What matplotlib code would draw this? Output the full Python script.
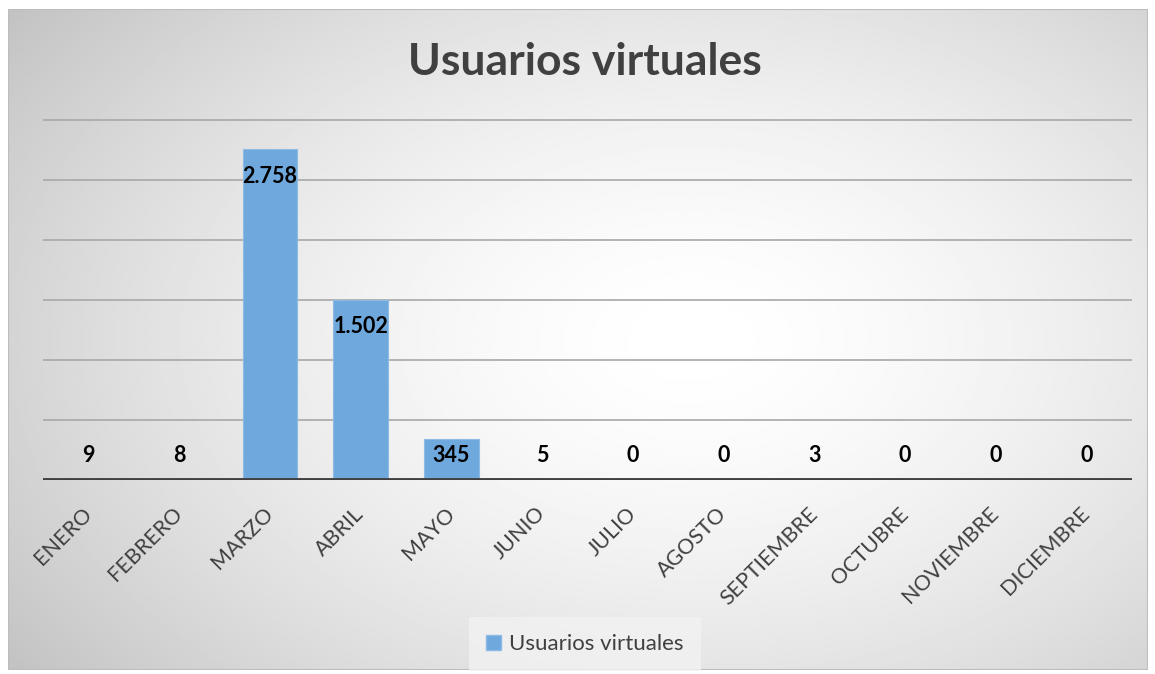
import numpy as np
import matplotlib.pyplot as plt
from matplotlib.patches import Rectangle, Patch

# data
months = ['ENERO', 'FEBRERO', 'MARZO', 'ABRIL', 'MAYO', 'JUNIO', 'JULIO',
          'AGOSTO', 'SEPTIEMBRE', 'OCTUBRE', 'NOVIEMBRE', 'DICIEMBRE']
usuarios = [9, 8, 2758, 1502, 345, 5, 0, 0, 3, 0, 0, 0]
y_ticks = [500, 1000, 1500, 2000, 2500, 3000]

plt.rcParams['font.family'] = ['Lato', 'DejaVu Sans']

W, H = 1155, 674
fig = plt.figure(figsize=(W / 100, H / 100), dpi=100)
fig.patch.set_facecolor('white')

# chart area background with radial gradient
bg = fig.add_axes([8 / W, 1 - 670 / H, 1140 / W, 661 / H])
gx, gy = np.meshgrid(np.linspace(0, 1, 400), np.linspace(0, 1, 300))
r = np.sqrt(((gx - 0.6) / 0.75) ** 2 + ((gy - 0.5) / 0.85) ** 2)
shade = 1 - 0.24 * np.clip(r, 0, 1.2) ** 1.6
bg.imshow(shade, cmap='gray', vmin=0, vmax=1, extent=(0, 1, 0, 1),
          aspect='auto', origin='upper', interpolation='bilinear')
bg.add_patch(Rectangle((0, 0), 1, 1, transform=bg.transAxes, fill=False,
                       edgecolor='#BDBDBD', linewidth=1.5))
bg.set_xlim(0, 1)
bg.set_ylim(0, 1)
bg.axis('off')

# main plot
ax = fig.add_axes([43 / W, 1 - 480 / H, 1089 / W, 366 / H])
ax.patch.set_alpha(0)
x = np.arange(len(months))
ax.bar(x, usuarios, width=0.6, color='#6FA8DC', edgecolor='#8DBBE6',
       linewidth=0.8, zorder=3)
ax.set_xlim(-0.5, len(months) - 0.5)
ax.set_ylim(0, 3050)

for t in y_ticks:
    ax.axhline(t, color='#A8A8A8', linewidth=1.2, zorder=1)
ax.axhline(0, color='#404040', linewidth=3.5, zorder=4)

for s in ax.spines.values():
    s.set_visible(False)
ax.set_yticks([])
ax.set_xticks(x)
ax.set_xticklabels(months, rotation=45, ha='right', va='center',
                   rotation_mode='anchor', fontsize=15.5, color='#404040')
ax.tick_params(axis='x', length=0, pad=22)

# data labels: inside the bar top, or just above the axis for short bars
for xi, v in zip(x, usuarios):
    ax.text(xi, max(v - 225, 208), f'{v:,}'.replace(',', '.'),
            ha='center', va='center', fontsize=15.5, fontweight='bold',
            color='black', zorder=5)

fig.text(585 / W, 1 - 62 / H, 'Usuarios virtuales', ha='center', va='center',
         fontsize=32, fontweight='bold', color='#404040')

leg = fig.legend(handles=[Patch(facecolor='#6FA8DC', edgecolor='#8DBBE6',
                                label='Usuarios virtuales')],
                 loc='center', bbox_to_anchor=(585 / W, 1 - 644 / H),
                 frameon=True, fontsize=16, handlelength=0.65,
                 handleheight=0.65, handletextpad=0.4, borderpad=0.75,
                 borderaxespad=0, fancybox=False)
leg.get_frame().set_facecolor('#F2F2F2')
leg.get_frame().set_edgecolor('none')
for t in leg.get_texts():
    t.set_color('#404040')

fig.savefig('out.png', dpi=100)
